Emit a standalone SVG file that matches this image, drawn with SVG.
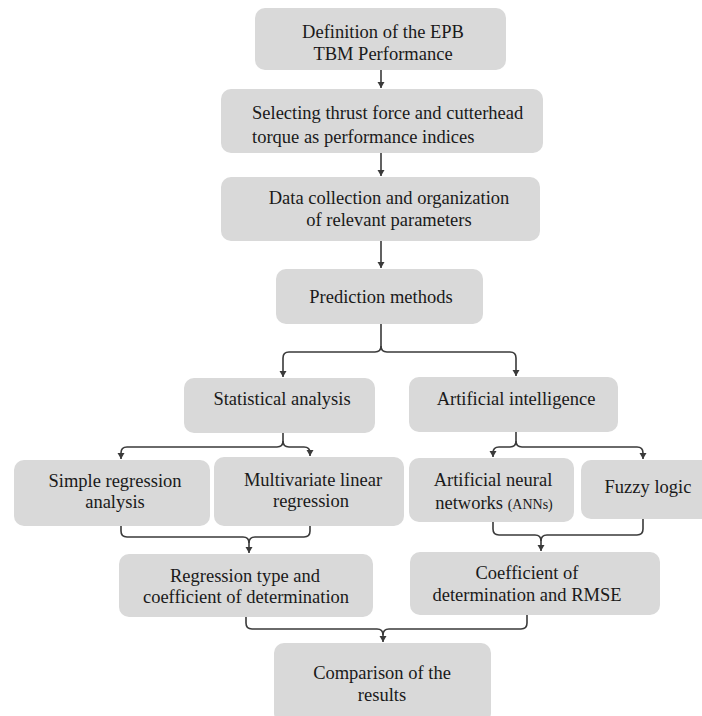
<svg xmlns="http://www.w3.org/2000/svg" width="702" height="716" viewBox="0 0 702 716">
<style>
.box{fill:#d9d9d9;}
.t{font-size:18.5px;fill:#1a1a1a;text-anchor:middle;}
.s{font-size:14px;}
.c{fill:none;stroke:#3a3a3a;stroke-width:1.6;}
</style>
<defs>
<marker id="dn" markerUnits="userSpaceOnUse" markerWidth="8" markerHeight="8" refX="4" refY="7" viewBox="0 0 8 8">
<path d="M0.5,1 L4,7 L7.5,1 Z" fill="#3a3a3a"/>
</marker>
</defs>
<rect width="702" height="716" fill="#ffffff"/>
<g font-family="'Liberation Serif', 'DejaVu Serif', serif">
<g id="n1"><rect class="box" x="255" y="8" width="251" height="62" rx="10"/>
<text class="t" x="383" y="38">Definition of the EPB</text>
<text class="t" x="383" y="60">TBM Performance</text></g>
<g id="n2"><rect class="box" x="221" y="89" width="322" height="64" rx="10"/>
<text class="t" x="252" y="119" style="text-anchor:start">Selecting thrust force and cutterhead</text>
<text class="t" x="252" y="143" style="text-anchor:start">torque as performance indices</text></g>
<g id="n3"><rect class="box" x="221" y="177" width="319" height="64" rx="10"/>
<text class="t" x="389" y="204">Data collection and organization</text>
<text class="t" x="389" y="226">of relevant parameters</text></g>
<g id="n4"><rect class="box" x="276" y="269" width="207" height="55" rx="10"/>
<text class="t" x="381" y="303">Prediction methods</text></g>
<g id="n5"><rect class="box" x="184" y="378" width="191" height="55" rx="10"/>
<text class="t" x="282" y="405">Statistical analysis</text></g>
<g id="n6"><rect class="box" x="409" y="377" width="209" height="55" rx="10"/>
<text class="t" x="516" y="405">Artificial intelligence</text></g>
<g id="n7"><rect class="box" x="14" y="460" width="196" height="66" rx="10"/>
<text class="t" x="115" y="487">Simple regression</text>
<text class="t" x="115" y="508">analysis</text></g>
<g id="n8"><rect class="box" x="214" y="457" width="190" height="69" rx="10"/>
<text class="t" x="313" y="486">Multivariate linear</text>
<text class="t" x="311" y="507">regression</text></g>
<g id="n9"><rect class="box" x="409" y="458" width="165" height="64" rx="10"/>
<text class="t" x="493" y="486">Artificial neural</text>
<text class="t" x="494" y="509">networks <tspan class="s">(ANNs)</tspan></text></g>
<g id="n10"><rect class="box" x="581" y="460" width="130" height="59" rx="10"/>
<text class="t" x="648" y="493">Fuzzy logic</text></g>
<g id="n11"><rect class="box" x="119" y="554" width="254" height="63" rx="10"/>
<text class="t" x="245" y="582">Regression type and</text>
<text class="t" x="246" y="603">coefficient of determination</text></g>
<g id="n12"><rect class="box" x="410" y="552" width="250" height="63" rx="10"/>
<text class="t" x="527" y="579">Coefficient of</text>
<text class="t" x="527" y="601">determination and RMSE</text></g>
<g id="n13"><rect class="box" x="274" y="643" width="217" height="80" rx="10"/>
<text class="t" x="382" y="679">Comparison of the</text>
<text class="t" x="382" y="701">results</text></g>
</g>
<g id="connectors">
<path class="c" d="M381,70 V88" marker-end="url(#dn)"/>
<path class="c" d="M381,153 V176" marker-end="url(#dn)"/>
<path class="c" d="M381,241 V268" marker-end="url(#dn)"/>
<path class="c" d="M381,324 V346 Q381,352 375,352 H289 Q283,352 283,358 V377" marker-end="url(#dn)"/>
<path class="c" d="M381,346 Q381,352 387,352 H510 Q516,352 516,358 V376" marker-end="url(#dn)"/>
<path class="c" d="M283,433 V441 Q283,447 277,447 H127 Q121,447 121,453 V459" marker-end="url(#dn)"/>
<path class="c" d="M283,441 Q283,447 289,447 H304 Q310,447 310,453 V456" marker-end="url(#dn)"/>
<path class="c" d="M516,432 V441 Q516,447 510,447 H499 Q493,447 493,453 V457" marker-end="url(#dn)"/>
<path class="c" d="M516,441 Q516,447 522,447 H637 Q643,447 643,453 V459" marker-end="url(#dn)"/>
<path class="c" d="M121,526 V531 Q121,537 127,537 H243 Q249,537 249,543 V553" marker-end="url(#dn)"/>
<path class="c" d="M310,526 V531 Q310,537 304,537 H255 Q249,537 249,543"/>
<path class="c" d="M493,522 V529 Q493,535 499,535 H535 Q541,535 541,541 V551" marker-end="url(#dn)"/>
<path class="c" d="M643,519 V529 Q643,535 637,535 H547 Q541,535 541,541"/>
<path class="c" d="M246,617 V623 Q246,629 252,629 H377 Q383,629 383,635 V642" marker-end="url(#dn)"/>
<path class="c" d="M527,615 V623 Q527,629 521,629 H389 Q383,629 383,635"/>
</g>
</svg>
